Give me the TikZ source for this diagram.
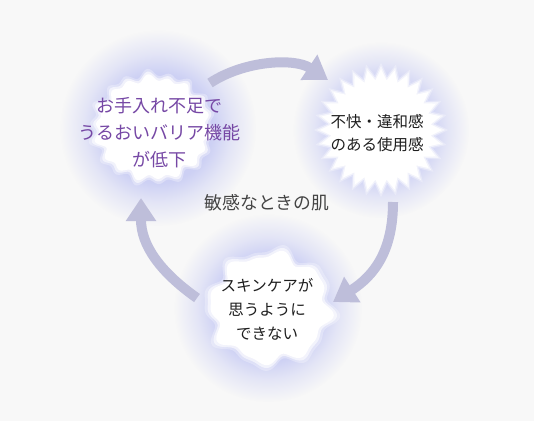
\documentclass[tikz,border=0pt]{standalone}
\usepackage{fontspec}
\newfontfamily\jp{Noto Sans CJK JP}
\usetikzlibrary{arrows.meta,shapes.geometric,fadings}
\definecolor{bgc}{RGB}{248,248,248}
\definecolor{glowc}{RGB}{198,202,244}
\definecolor{arrowc}{RGB}{190,190,218}
\definecolor{purpletext}{RGB}{118,72,165}
\definecolor{darktext}{RGB}{30,30,30}
\definecolor{midtext}{RGB}{68,68,68}
\pgfdeclareradialshading{glowshade}{\pgfpointorigin}{color(0bp)=(pgftransparent!10); color(14bp)=(pgftransparent!15); color(19bp)=(pgftransparent!60); color(25bp)=(pgftransparent!100); color(50bp)=(pgftransparent!100)}
\pgfdeclarefading{glowfade}{\pgfuseshading{glowshade}}
\newcommand{\jpsize}[2]{\jp\fontsize{#1}{#2}\selectfont}

\begin{document}
\begin{tikzpicture}[x=1pt,y=-1pt,
   glow/.style={glowc,path fading=glowfade},
   cyclearrow/.style={arrowc,line width=10pt,-{Triangle[length=23pt,width=29pt]}},
   cloudtext/.style={align=center,inner sep=0pt}]
   \fill[bgc] (0,0) rectangle (534,421);
   \useasboundingbox (0,0) rectangle (534,421);
   % glows
   \fill[glow] (158,128) circle(98);
   \fill[glow] (381,130) circle(88);
   \fill[glow] (268,308) circle(94);
   % arrows of the cycle
   \coordinate (a1s) at (210,83);
   \coordinate (a1e) at (328,80);
   \coordinate (a2s) at (393,202);
   \coordinate (a2e) at (333,302);
   \coordinate (a3s) at (197,298);
   \coordinate (a3e) at (141,198);
   \draw[cyclearrow] (a1s) .. controls (245,60) and (295,58) .. (a1e);
   \draw[cyclearrow] (a2s) .. controls (393,250) and (375,275) .. (a2e);
   \draw[cyclearrow] (a3s) .. controls (160,272) and (141,245) .. (a3e);
   % white clouds
   \foreach \s/\o in {1.1/0.3,1.05/0.6,1/1}{
     \fill[white,opacity=\o,domain=0:360,samples=300,smooth,variable=\t]
      plot({153+\s*56*(1+0.05*sin(18*\t)+0.03*sin(11*\t+30))*cos(\t)},
           {128+\s*50*(1+0.05*sin(18*\t)+0.03*sin(11*\t+30))*sin(\t)}) -- cycle;
     \fill[white,opacity=\o,domain=0:360,samples=300,smooth,variable=\t]
      plot({270+\s*58*(1+0.07*sin(8*\t+20)+0.04*sin(13*\t))*cos(\t)},
           {308+\s*53*(1+0.07*sin(8*\t+20)+0.04*sin(13*\t))*sin(\t)}) -- cycle;
     \node[star,star points=28,star point ratio=1.22,minimum size=\s*122pt,
      inner sep=0pt,fill=white,opacity=\o] at (381,130) {};
   }
   % texts
   \node[cloudtext,purpletext,font=\jpsize{18}{27}] (care) at (159,133)
      {お手入れ不足で\\うるおいバリア機能\\が低下};
   \node[cloudtext,darktext,font=\jpsize{15.5}{23}] (discomfort) at (377,133)
      {不快・違和感\\のある使用感};
   \node[cloudtext,darktext,font=\jpsize{15.5}{24}] (skincare) at (267,309)
      {スキンケアが\\思うように\\できない};
   \node[cloudtext,midtext,font=\jpsize{17.8}{20}] (skin) at (267,203) {敏感なときの肌};
\end{tikzpicture}
\end{document}
